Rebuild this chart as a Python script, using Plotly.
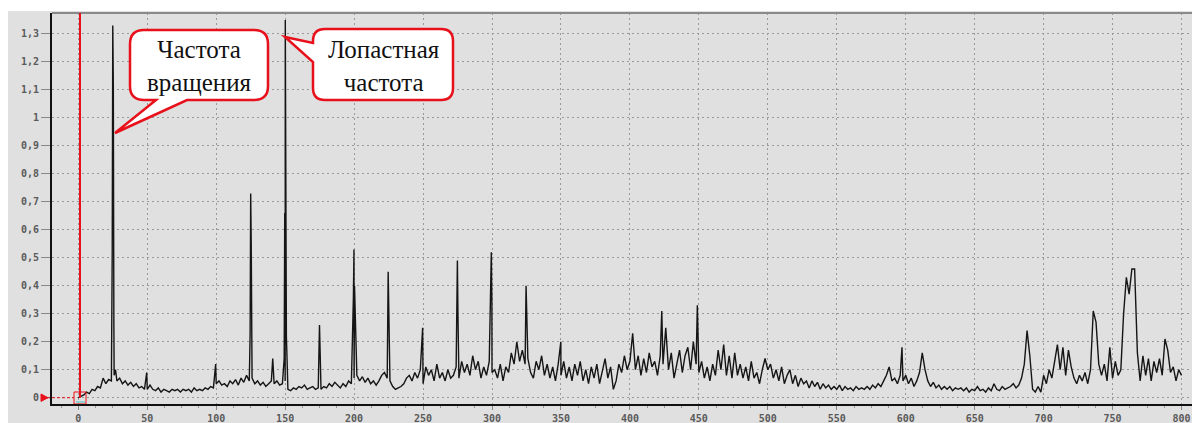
import numpy as np
import plotly.graph_objects as go

# ---------------- data (amplitude spectrum, 2 Hz grid) ----------------
amp_000_098 = [0.000, 0.005, 0.010, 0.020, 0.015, 0.030, 0.025, 0.040, 0.035, 0.070,
               0.050, 0.065, 0.060, 0.080, 0.060, 0.070, 0.050, 0.060, 0.045, 0.055,
               0.040, 0.050, 0.035, 0.040, 0.030, 0.030, 0.045, 0.030, 0.025, 0.035,
               0.020, 0.030, 0.025, 0.020, 0.030, 0.025, 0.030, 0.020, 0.030, 0.025,
               0.030, 0.020, 0.035, 0.025, 0.030, 0.025, 0.035, 0.030, 0.040, 0.035]
amp_100_198 = [0.050, 0.060, 0.045, 0.050, 0.040, 0.060, 0.050, 0.065, 0.045, 0.070,
               0.055, 0.080, 0.060, 0.070, 0.050, 0.060, 0.045, 0.055, 0.040, 0.050,
               0.060, 0.050, 0.060, 0.045, 0.050, 0.060, 0.030, 0.025, 0.035, 0.030,
               0.040, 0.035, 0.045, 0.030, 0.035, 0.040, 0.030, 0.035, 0.030, 0.040,
               0.035, 0.050, 0.040, 0.055, 0.045, 0.035, 0.050, 0.040, 0.060, 0.050]
amp_200_298 = [0.070, 0.080, 0.060, 0.075, 0.055, 0.070, 0.050, 0.060, 0.045, 0.060,
               0.080, 0.090, 0.070, 0.060, 0.040, 0.030, 0.035, 0.040, 0.050, 0.070,
               0.080, 0.060, 0.090, 0.070, 0.100, 0.050, 0.110, 0.080, 0.100, 0.060,
               0.120, 0.070, 0.090, 0.060, 0.100, 0.070, 0.080, 0.110, 0.070, 0.130,
               0.090, 0.120, 0.080, 0.150, 0.100, 0.130, 0.070, 0.110, 0.080, 0.130]
amp_300_398 = [0.090, 0.100, 0.070, 0.120, 0.060, 0.110, 0.090, 0.160, 0.120, 0.200,
               0.130, 0.170, 0.120, 0.140, 0.090, 0.070, 0.130, 0.100, 0.150, 0.080,
               0.120, 0.070, 0.110, 0.060, 0.120, 0.080, 0.130, 0.070, 0.110, 0.060,
               0.120, 0.080, 0.130, 0.060, 0.100, 0.050, 0.110, 0.070, 0.120, 0.050,
               0.100, 0.140, 0.070, 0.110, 0.030, 0.060, 0.120, 0.090, 0.150, 0.100]
amp_400_498 = [0.130, 0.230, 0.100, 0.150, 0.080, 0.140, 0.090, 0.160, 0.110, 0.130,
               0.080, 0.150, 0.120, 0.250, 0.100, 0.160, 0.070, 0.120, 0.170, 0.090,
               0.150, 0.180, 0.100, 0.200, 0.120, 0.090, 0.130, 0.070, 0.110, 0.060,
               0.120, 0.080, 0.170, 0.100, 0.190, 0.080, 0.150, 0.070, 0.160, 0.080,
               0.120, 0.070, 0.110, 0.060, 0.130, 0.070, 0.090, 0.050, 0.100, 0.140]
amp_500_598 = [0.100, 0.120, 0.070, 0.100, 0.060, 0.110, 0.050, 0.080, 0.100, 0.050,
               0.080, 0.040, 0.070, 0.050, 0.060, 0.035, 0.060, 0.040, 0.055, 0.030,
               0.050, 0.035, 0.045, 0.030, 0.040, 0.030, 0.045, 0.025, 0.040, 0.030,
               0.035, 0.025, 0.040, 0.030, 0.035, 0.030, 0.040, 0.030, 0.045, 0.035,
               0.050, 0.040, 0.060, 0.080, 0.110, 0.060, 0.070, 0.050, 0.080, 0.060]
amp_600_698 = [0.080, 0.050, 0.070, 0.040, 0.060, 0.090, 0.160, 0.100, 0.060, 0.040,
               0.055, 0.035, 0.045, 0.030, 0.040, 0.030, 0.040, 0.025, 0.035, 0.030,
               0.035, 0.025, 0.035, 0.020, 0.030, 0.025, 0.040, 0.025, 0.030, 0.020,
               0.035, 0.025, 0.050, 0.030, 0.025, 0.040, 0.030, 0.035, 0.040, 0.050,
               0.035, 0.045, 0.070, 0.120, 0.240, 0.150, 0.030, 0.020, 0.040, 0.020]
amp_700_798 = [0.080, 0.050, 0.100, 0.070, 0.130, 0.190, 0.100, 0.180, 0.080, 0.170,
               0.110, 0.070, 0.050, 0.080, 0.060, 0.090, 0.050, 0.100, 0.310, 0.270,
               0.120, 0.080, 0.120, 0.060, 0.180, 0.070, 0.130, 0.080, 0.100, 0.300,
               0.430, 0.370, 0.460, 0.460, 0.160, 0.060, 0.150, 0.080, 0.140, 0.060,
               0.130, 0.090, 0.140, 0.080, 0.210, 0.170, 0.090, 0.110, 0.060, 0.100]
amp_800 = [0.080]

# narrow harmonic peaks (frequency, amplitude)
peak_freqs = [24.6, 25.0, 25.4, 25.8, 27.0, 49.6, 99.6, 124.6, 125.0, 125.4, 141.0,
              149.3, 149.7, 150.1, 150.5, 150.9, 174.9, 199.5, 199.9, 200.3, 224.7,
              225.1, 249.7, 274.9, 275.3, 299.5, 299.9, 324.7, 325.1, 349.9, 423.1,
              448.9, 597.3]
peak_amps = [0.52, 1.33, 1.12, 0.25, 0.10, 0.09, 0.12, 0.23, 0.73, 0.55, 0.14,
             0.14, 0.66, 1.35, 0.86, 0.22, 0.26, 0.36, 0.53, 0.40, 0.45,
             0.35, 0.25, 0.49, 0.30, 0.52, 0.34, 0.40, 0.28, 0.20, 0.31,
             0.33, 0.18]

x_ticks = list(range(0, 801, 50))
y_ticks = [0, 0.1, 0.2, 0.3, 0.4, 0.5, 0.6, 0.7, 0.8, 0.9, 1.0, 1.1, 1.2, 1.3]
y_tick_text = ["0", "0,1", "0,2", "0,3", "0,4", "0,5", "0,6", "0,7", "0,8", "0,9",
               "1", "1,1", "1,2", "1,3"]

callout_rotation = "Частота<br>вращения"
callout_blade = "Лопастная<br>частота"

# ---------------- build series ----------------
grid_amp = np.concatenate([amp_000_098, amp_100_198, amp_200_298, amp_300_398,
                           amp_400_498, amp_500_598, amp_600_698, amp_700_798, amp_800])
grid_freq = np.arange(0, 802, 2, dtype=float)
freq = np.concatenate([grid_freq, peak_freqs])
amp = np.concatenate([grid_amp, peak_amps])
order = np.argsort(freq, kind="stable")
freq, amp = freq[order], amp[order]

# ---------------- layout geometry ----------------
# the page body has an 8 px margin, so the figure sits at (8, 8) in the window
OFF = 8
W, H = 1192, 415
ML, MR, MT, MB = 44, 0, 5, 19
XR = [-19.07, 813.4]
YR = [-0.0225, 1.375]
PW, PH = W - ML - MR, H - MT - MB


def px2x(px):  # page pixel -> data x
    return XR[0] + (px - OFF - ML) / PW * (XR[1] - XR[0])


def py2y(py):  # page pixel -> data y
    return YR[0] + (H - MB - (py - OFF)) / PH * (YR[1] - YR[0])


def px2p(px):  # page pixel -> paper x
    return (px - OFF - ML) / PW


def py2p(py):  # page pixel -> paper y
    return (H - MB - (py - OFF)) / PH


def P(px, py):
    return f"{px2x(px):.4f},{py2y(py):.5f}"


BG = "#e0e0e0"
RED = "#e8101a"

fig = go.Figure()
fig.add_trace(go.Scatter(x=freq, y=amp, mode="lines",
                         line=dict(color="#151515", width=1.4),
                         hoverinfo="skip", showlegend=False))

shapes = []
# white strip above the gray panel
shapes.append(dict(type="rect", xref="paper", yref="paper",
                   x0=-ML / PW - 0.01, x1=1.01, y0=(H - MB - 3) / PH, y1=(H - MB) / PH + 0.01,
                   fillcolor="white", line=dict(width=0), layer="above"))
# top border line
shapes.append(dict(type="line", xref="paper", yref="paper", x0=0, x1=1, y0=1, y1=1,
                   line=dict(color="#8a8a8a", width=2)))
# red cursor lines
shapes.append(dict(type="line", xref="x", yref="y", x0=px2x(80), x1=px2x(80),
                   y0=0, y1=YR[1], line=dict(color=RED, width=2)))
shapes.append(dict(type="line", xref="paper", yref="y", x0=px2p(47), x1=px2p(74),
                   y0=0, y1=0, line=dict(color=RED, width=1, dash="3px,2px")))
shapes.append(dict(type="path", xref="paper", yref="paper",
                   path=(f"M {px2p(41):.5f},{py2p(394):.5f} L {px2p(48):.5f},{py2p(397.7):.5f} "
                         f"L {px2p(41):.5f},{py2p(401.4):.5f} Z"),
                   fillcolor=RED, line=dict(color=RED, width=1), layer="above"))
shapes.append(dict(type="rect", xref="x", yref="y", x0=px2x(74), x1=px2x(86),
                   y0=py2y(404), y1=py2y(392), line=dict(color=RED, width=1)))
shapes.append(dict(type="line", xref="x", yref="y", x0=px2x(76), x1=px2x(85),
                   y0=py2y(402), y1=py2y(402), line=dict(color="#40c0c0", width=1)))

# callout 1 (rotation frequency)
L, R_, T, B, r = 130, 268, 30, 100, 14
path1 = (f"M {P(L + r, T)} L {P(R_ - r, T)} Q {P(R_, T)} {P(R_, T + r)} "
         f"L {P(R_, B - r)} Q {P(R_, B)} {P(R_ - r, B)} L {P(187, B)} L {P(115, 133)} "
         f"L {P(156, B)} L {P(L + r, B)} Q {P(L, B)} {P(L, B - r)} L {P(L, T + r)} "
         f"Q {P(L, T)} {P(L + r, T)} Z")
shapes.append(dict(type="path", xref="x", yref="y", path=path1, fillcolor="white",
                   line=dict(color=RED, width=2.5), layer="above"))
# callout 2 (blade frequency)
L2, R2, T2, B2, r2 = 313, 453, 29, 100, 12
path2 = (f"M {P(L2 + r2, T2)} L {P(R2 - r2, T2)} Q {P(R2, T2)} {P(R2, T2 + r2)} "
         f"L {P(R2, B2 - r2)} Q {P(R2, B2)} {P(R2 - r2, B2)} L {P(L2 + r2, B2)} "
         f"Q {P(L2, B2)} {P(L2, B2 - r2)} L {P(L2, 62)} L {P(285, 37)} L {P(L2, 43)} "
         f"L {P(L2, T2 + r2)} Q {P(L2, T2)} {P(L2 + r2, T2)} Z")
shapes.append(dict(type="path", xref="x", yref="y", path=path2, fillcolor="white",
                   line=dict(color=RED, width=2.5), layer="above"))

annotations = [
    dict(x=px2x(199), y=py2y(66), xref="x", yref="y", text=callout_rotation,
         showarrow=False, font=dict(family="Liberation Serif", size=25, color="#111"),
         xanchor="center", yanchor="middle"),
    dict(x=px2x(384), y=py2y(66), xref="x", yref="y", text=callout_blade,
         showarrow=False, font=dict(family="Liberation Serif", size=25, color="#111"),
         xanchor="center", yanchor="middle"),
]

tickfont = dict(family="DejaVu Sans Mono", size=10, color="#5a5a5a", weight="bold")
fig.update_layout(
    width=W, height=H,
    margin=dict(l=ML, r=MR, t=MT, b=MB, pad=0, autoexpand=False),
    paper_bgcolor=BG, plot_bgcolor=BG,
    shapes=shapes, annotations=annotations, showlegend=False,
    xaxis=dict(range=XR, tickvals=x_ticks, ticktext=[str(v) for v in x_ticks],
               tickfont=tickfont, ticks="outside", ticklen=4, tickcolor="#888888",
               showgrid=True, gridcolor="#9a9a9a", griddash="2px,3px", gridwidth=1,
               showline=True, linecolor="#111111", linewidth=2, zeroline=False,
               minor=dict(dtick=12.5, tick0=0, ticks="outside", ticklen=2,
                          tickcolor="#999999", showgrid=False),
               automargin=False, fixedrange=True),
    yaxis=dict(range=YR, tickvals=y_ticks, ticktext=y_tick_text,
               tickfont=tickfont, ticks="outside", ticklen=9, tickcolor="#888888",
               showgrid=True, gridcolor="#9a9a9a", griddash="2px,3px", gridwidth=1,
               showline=True, linecolor="#111111", linewidth=2, zeroline=False,
               automargin=False, fixedrange=True),
)

fig.write_html("out.html")
